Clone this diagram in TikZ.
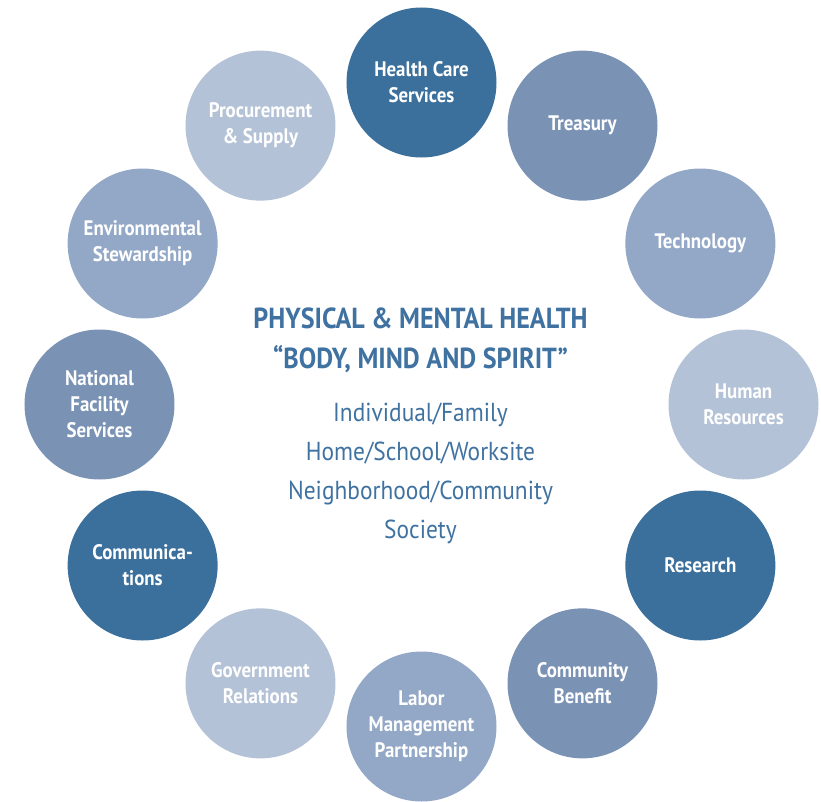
\documentclass[tikz,border=0pt]{standalone}
\usepackage{fontspec}
\setmainfont{PT Sans}[FakeStretch=0.9]
\definecolor{deepblue}{HTML}{3B6F9C}
\definecolor{midblue}{HTML}{7A93B5}
\definecolor{softblue}{HTML}{93A8C6}
\definecolor{paleblue}{HTML}{B4C2D7}
\definecolor{textblue}{HTML}{3F72A0}
\begin{document}
\begin{tikzpicture}[x=1pt, y=1pt,
  main/.style = {circle, minimum size=150pt, inner sep=0pt, text=white, align=center,
    font=\fontsize{21}{26}\selectfont\bfseries},
  title/.style = {text=textblue, align=center, font=\fontsize{29}{40}\selectfont\bfseries},
  levels/.style = {text=textblue, align=center, font=\fontsize{26}{39}\selectfont}]
\useasboundingbox (-421.5,-396.5) rectangle (399.5,404.5);
\node[main, fill=deepblue] (care) at (90:322) {Health Care\\Services};
\node[main, fill=midblue] (treasury) at (60:322) {Treasury};
\node[main, fill=softblue] (tech) at (30:322) {Technology};
\node[main, fill=paleblue] (hr) at (0:322) {Human\\Resources};
\node[main, fill=deepblue] (research) at (-30:322) {Research};
\node[main, fill=midblue] (benefit) at (-60:322) {Community\\Benefit};
\node[main, fill=softblue] (labor) at (-90:322) {Labor\\Management\\Partnership};
\node[main, fill=paleblue] (gov) at (-120:322) {Government\\Relations};
\node[main, fill=deepblue] (comms) at (-150:322) {Communica-\\tions};
\node[main, fill=midblue] (facility) at (180:322) {National\\Facility\\Services};
\node[main, fill=softblue] (env) at (150:322) {Environmental\\Stewardship};
\node[main, fill=paleblue] (supply) at (120:322) {Procurement\\\& Supply};
% middle of the ring
\node[title] (health) at (-1,64) {PHYSICAL \& MENTAL HEALTH\\“BODY, MIND AND SPIRIT”};
\node[levels] (levels) at (-1,-69) {Individual/Family\\Home/School/Worksite\\Neighborhood/Community\\Society};
\end{tikzpicture}
\end{document}
